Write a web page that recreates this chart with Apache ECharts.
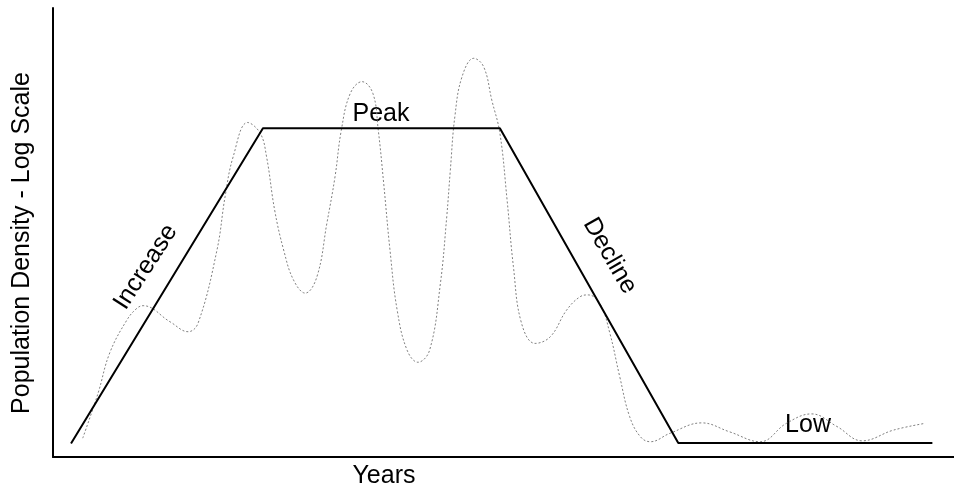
<!DOCTYPE html>
<html>
<head>
<meta charset="utf-8">
<script src="https://cdn.jsdelivr.net/npm/echarts@6/dist/echarts.min.js"></script>
<style>
html,body{margin:0;padding:0;background:#fff;}
#chart{width:954px;height:491px;}
</style>
</head>
<body>
<div id="chart"></div>
<script>
// Idealised trend (solid line): [years, density]
var trendX = [2.0, 23.3, 49.6, 69.4, 97.6];
var trendY = [3.0, 73.2, 73.2, 3.1, 3.1];

// Observed fluctuation (dotted line)
var obsX = [3.3, 5.0, 6.3, 8.2, 9.3, 10.0, 13.0, 15.0, 16.1, 18.2, 19.1, 20.0, 21.6,
            23.0, 23.7, 24.6, 25.6, 26.7, 28.0, 29.3, 30.4, 31.3, 32.0, 33.0, 34.3,
            35.5, 36.1, 36.7, 37.4, 38.2, 39.3, 40.5, 41.8, 43.0, 43.7, 44.1, 44.6,
            45.4, 46.7, 47.8, 48.7, 49.6, 50.4, 51.1, 52.0, 53.5, 55.2, 57.0, 58.5,
            59.4, 60.7, 61.8, 62.9, 64.0, 65.2, 66.3, 68.5, 72.0, 75.1, 78.5, 81.4,
            84.2, 87.0, 89.8, 93.3, 96.8];
var obsY = [4.2, 14.2, 23.2, 30.5, 33.1, 33.7, 30.1, 27.9, 29.8, 46.1, 58.0, 66.9, 74.5,
            72.1, 66.9, 55.0, 46.1, 39.4, 36.5, 40.2, 52.1, 62.4, 72.8, 81.0, 83.6,
            81.0, 72.8, 61.0, 46.1, 32.7, 23.8, 21.1, 23.8, 38.7, 53.5, 63.9, 75.8,
            84.7, 88.8, 86.9, 79.5, 72.1, 57.2, 42.4, 29.8, 25.3, 26.8, 32.7, 35.7,
            36.1, 34.2, 27.6, 17.9, 9.0, 4.5, 3.4, 5.3, 7.6, 5.6, 3.4, 7.5,
            9.6, 6.8, 3.6, 6.0, 7.5];

// Phase labels: text, x, y (data coords), rotation (degrees)
var phaseText = ['Increase', 'Peak', 'Decline', 'Low'];
var phaseX = [10.3, 36.4, 61.8, 83.8];
var phaseY = [42.3, 76.4, 44.8, 7.1];
var phaseRot = [57, 0, -60, 0];

var xTitle = 'Years';
var yTitle = 'Population Density - Log Scale';

function zip(a, b) { return a.map(function (v, i) { return [v, b[i]]; }); }

var FONT = '"Liberation Sans", Arial, sans-serif';
var FS = 25;
var chart = echarts.init(document.getElementById('chart'), null, {renderer: 'canvas'});

var option = {
  animation: false,
  backgroundColor: '#fff',
  grid: {left: 53, right: 0, top: 8, bottom: 34, containLabel: false},
  xAxis: {
    type: 'value', min: 0, max: 100,
    axisLine: {show: true, onZero: false, lineStyle: {color: '#000', width: 2}},
    axisTick: {show: false}, axisLabel: {show: false}, splitLine: {show: false}
  },
  yAxis: {
    type: 'value', min: 0, max: 100,
    axisLine: {show: true, onZero: false, lineStyle: {color: '#000', width: 2}},
    axisTick: {show: false}, axisLabel: {show: false}, splitLine: {show: false}
  },
  series: [
    {
      type: 'line', data: zip(obsX, obsY), smooth: 0.4, showSymbol: false, silent: true,
      lineStyle: {color: '#808080', width: 1, type: [2, 2]}
    },
    {
      type: 'line', data: zip(trendX, trendY), showSymbol: false, silent: true,
      lineStyle: {color: '#000', width: 2}
    }
  ]
};
chart.setOption(option);

var g = [];
for (var i = 0; i < phaseText.length; i++) {
  var p = chart.convertToPixel({gridIndex: 0}, [phaseX[i], phaseY[i]]);
  g.push({
    type: 'text', x: p[0], y: p[1], rotation: phaseRot[i] * Math.PI / 180,
    style: {text: phaseText[i], fontSize: FS, fontFamily: FONT, fill: '#000',
            align: 'center', verticalAlign: 'middle'}
  });
}
g.push({
  type: 'text', x: 384, y: 476,
  style: {text: xTitle, fontSize: FS, fontFamily: FONT, fill: '#000', align: 'center', verticalAlign: 'middle'}
});
g.push({
  type: 'text', x: 22, y: 243, rotation: Math.PI / 2,
  style: {text: yTitle, fontSize: FS, fontFamily: FONT, fill: '#000', align: 'center', verticalAlign: 'middle'}
});
chart.setOption({graphic: g});
</script>
</body>
</html>
